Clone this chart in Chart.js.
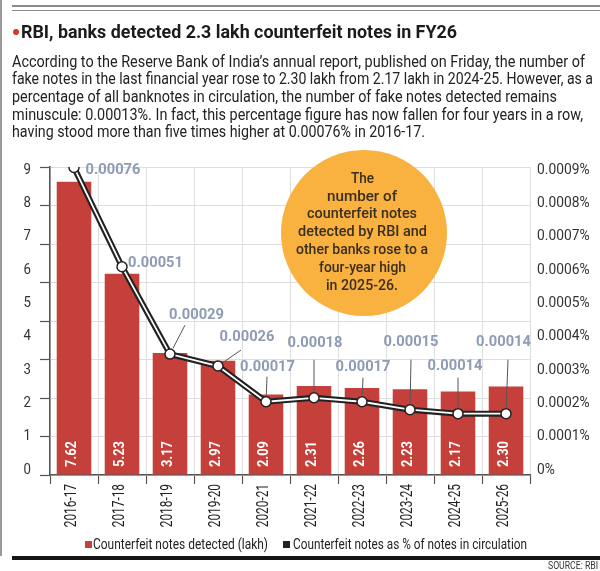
<!DOCTYPE html>
<html><head><meta charset="utf-8">
<script src="https://cdn.jsdelivr.net/npm/chart.js@4.4.0/dist/chart.umd.min.js"></script>
<style>
html,body{margin:0;padding:0;background:#fff;}
#page{position:relative;width:600px;height:571px;overflow:hidden;font-family:Roboto,sans-serif;background:#fff;}
#c{position:absolute;left:0;top:0;}
.t{position:absolute;white-space:nowrap;transform-origin:0 0;}
.blk{position:absolute;}
</style></head><body>
<div id="page">
<canvas id="c" width="600" height="571"></canvas>
<div class="blk" style="left:0;top:0;width:2px;height:556px;background:#9a9a9a"></div>
<div class="blk" style="left:12px;top:5px;width:588px;height:2px;background:#8a8a8a"></div>
<div class="blk" style="left:12px;top:10px;width:588px;height:1px;background:#8a8a8a"></div>
<div class="blk" style="left:12px;top:556px;width:588px;height:4px;background:#151515"></div>
<div class="blk" style="left:13px;top:28.5px;width:6px;height:6px;border-radius:50%;background:#d8362c"></div>
<div class="blk" id="circle" style="left:281px;top:150px;width:166px;height:166px;border-radius:50%;background:#F9B13F"></div>
<div class="blk" style="left:85px;top:541px;width:7px;height:7px;background:#C5403A"></div>
<div class="blk" style="left:283px;top:541px;width:7px;height:7px;background:#222"></div>
</div>
<script>
// ---- data ----
const categories = ['2016-17','2017-18','2018-19','2019-20','2020-21','2021-22','2022-23','2023-24','2024-25','2025-26'];
const notesLakh = [7.62, 5.23, 3.17, 2.97, 2.09, 2.31, 2.26, 2.23, 2.17, 2.30];
const pctOfCirculation = [0.00076, 0.00051, 0.00029, 0.00026, 0.00017, 0.00018, 0.00017, 0.00015, 0.00014, 0.00014];
const leftTickValues = [0,1,2,3,4,5,6,7,8,9];
const leftTickLabels = ['0','1','2','3','4','5','6','7','8','9'];
const rightTickValues = [0,0.0001,0.0002,0.0003,0.0004,0.0005,0.0006,0.0007,0.0008,0.0009];
const rightTickLabels = ['0%','0.0001%','0.0002%','0.0003%','0.0004%','0.0005%','0.0006%','0.0007%','0.0008%','0.0009%'];
const seriesNames = ['Counterfeit notes detected (lakh)','Counterfeit notes as % of notes in circulation'];

// ---- label placement styling (relative to each point) ----
const pctLabelOffset = [[39,2.5],[33.5,-3.8],[26.5,-39],[29,-29],[1.5,-35],[1,-55],[1,-35],[1,-67],[-3,-47],[-2.5,-71]];
const pctLeaderStart = [null,null,[15,-29],[23,-16],[1,-25],[0,-38],[1,-24],[1,-50],[0,-36],[2,-54]];

function drawScaled(ctx, text, x, y, sx){
  ctx.save(); ctx.translate(x,y); ctx.scale(sx,1); ctx.fillText(text,0,0); ctx.restore();
}

const labelsPlugin = {
  id:'labels',
  afterDraw(chart){
    const ctx = chart.ctx;
    const sx = chart.scales.x, yLab = chart.scales.yLab, yR = chart.scales.yR;
    const area = chart.chartArea;
    ctx.save();
    ctx.fillStyle = '#333'; ctx.font = '400 15px Roboto'; ctx.textBaseline='middle'; ctx.textAlign='right';
    leftTickValues.forEach((v,i)=> drawScaled(ctx, leftTickLabels[i], 31, yLab.getPixelForValue(v), 0.88));
    ctx.textAlign='left';
    rightTickValues.forEach((v,i)=> drawScaled(ctx, rightTickLabels[i], 537, yR.getPixelForValue(v), 0.92));
    ctx.fillStyle = '#222'; ctx.font = '400 16px Roboto';
    categories.forEach((c,i)=>{
      const x = sx.getPixelForValue(i) - 2;
      ctx.save(); ctx.translate(x, area.bottom + 9); ctx.rotate(-Math.PI/2);
      ctx.textAlign='right'; ctx.textBaseline='middle'; ctx.scale(0.74,1);
      ctx.fillText(c,0,0); ctx.restore();
    });
    const barMeta = chart.getDatasetMeta(0);
    ctx.fillStyle = '#fff'; ctx.font = '700 15px Roboto';
    barMeta.data.forEach((el,i)=>{
      ctx.save(); ctx.translate(el.x - 2, area.bottom - 8); ctx.rotate(-Math.PI/2);
      ctx.textAlign='left'; ctx.textBaseline='middle'; ctx.scale(0.86,1);
      ctx.fillText(notesLakh[i].toFixed(2),0,0); ctx.restore();
    });
    const lineMeta = chart.getDatasetMeta(2);
    lineMeta.data.forEach((el,i)=>{
      const px = el.x, py = el.y;
      const ls = pctLeaderStart[i];
      if (ls){
        const x0 = px + ls[0], y0 = py + ls[1];
        const dx = px - x0, dy = py - y0, L = Math.hypot(dx,dy);
        const x1 = px - dx/L*6.5, y1 = py - dy/L*6.5;
        ctx.strokeStyle = '#555'; ctx.lineWidth = 1;
        ctx.beginPath(); ctx.moveTo(x0,y0); ctx.lineTo(x1,y1); ctx.stroke();
      }
      const o = pctLabelOffset[i];
      ctx.fillStyle = '#8d9bb4'; ctx.font = '700 15px Roboto';
      ctx.textAlign='center'; ctx.textBaseline='middle';
      drawScaled(ctx, pctOfCirculation[i].toFixed(5), px + o[0], py + o[1], 0.98);
    });
    ctx.restore();
  }
};

new Chart(document.getElementById('c'), {
  data:{
    labels: categories,
    datasets:[
      {type:'bar', label:seriesNames[0], data:notesLakh, backgroundColor:'#C5403A', yAxisID:'y', xAxisID:'x', barPercentage:0.72, categoryPercentage:1, order:3},
      {type:'line', label:seriesNames[1], data:pctOfCirculation, yAxisID:'yPct', xAxisID:'x', borderColor:'#222', borderWidth:6, pointRadius:0, tension:0, order:2},
      {type:'line', label:seriesNames[1], data:pctOfCirculation, yAxisID:'yPct', xAxisID:'x', borderColor:'#fff', borderWidth:1.8, tension:0,
        pointRadius:5, pointBackgroundColor:'#fff', pointBorderColor:'#222', pointBorderWidth:1.5, order:1}
    ]
  },
  options:{
    responsive:false, animation:false, devicePixelRatio:1,
    layout:{padding:{left:50,right:70,top:167,bottom:96}},
    plugins:{legend:{display:false}, tooltip:{enabled:false}, title:{display:false}},
    scales:{
      x:{type:'category', offset:true,
         grid:{offset:true, color:'#dedede', lineWidth:1, tickLength:9, tickColor:'#555', tickWidth:1.2},
         border:{color:'#555', width:1.5}, ticks:{display:false}, afterFit(s){s.height=0;}},
      y:{type:'linear', position:'left', min:0, max:8,
         ticks:{display:false, stepSize:1},
         grid:{color:'#dedede', lineWidth:1, tickLength:10, tickColor:'#555', tickWidth:1.2},
         border:{color:'#555', width:1.5}, afterFit(s){s.width=0;}},
      yLab:{type:'linear', display:false, min:-0.15, max:9.09},
      yPct:{type:'linear', display:false, min:-0.0000144, max:0.000761},
      yR:{type:'linear', display:false, min:-0.000015, max:0.000909}
    }
  },
  plugins:[labelsPlugin]
});

// ---- HTML text ----
const page = document.getElementById('page');
function place(o){
  const d = document.createElement('div');
  d.className='t';
  d.style.font = `${o.weight||400} ${o.size}px Roboto, sans-serif`;
  d.style.lineHeight = o.size+'px';
  d.style.color = o.color||'#222';
  d.style.left='0px'; d.style.top='0px';
  d.textContent = o.text;
  const m = document.createElement('i');
  m.style.cssText='display:inline-block;width:0;height:0;vertical-align:baseline;';
  d.appendChild(m);
  page.appendChild(d);
  const nat = d.getBoundingClientRect().width;
  const base = m.offsetTop;
  const s = o.width/nat;
  d.style.transform = `scaleX(${s})`;
  const left = (o.cx!==undefined) ? o.cx - o.width/2 : o.x;
  d.style.left = left+'px';
  d.style.top = (o.baseline - base)+'px';
  return d;
}
place({text:'RBI, banks detected 2.3 lakh counterfeit notes in FY26', x:21, baseline:37.5, size:18, weight:700, color:'#1b1b1b', width:436});
const para = [
  ['According to the Reserve Bank of India’s annual report, published on Friday, the number of', 573],
  ['fake notes in the last financial year rose to 2.30 lakh from 2.17 lakh in 2024-25. However, as a', 581],
  ['percentage of all banknotes in circulation, the number of fake notes detected remains', 545],
  ['minuscule: 0.00013%. In fact, this percentage figure has now fallen for four years in a row,', 571],
  ['having stood more than five times higher at 0.00076% in 2016-17.', 413]
];
para.forEach((p,i)=> place({text:p[0], x:12, baseline:66.7 + i*17.6, size:16.5, color:'#222', width:p[1]}));
const circ = [
  ['The',23],['number of',70],['counterfeit notes',110],['detected by RBI and',129],
  ['other banks rose to a',132],['four-year high',87],['in 2025-26.',72]
];
circ.forEach((c,i)=> place({text:c[0], cx:362, baseline:182.7 + i*17.8, size:15, weight:500, color:'#3a2e1e', width:c[1]}));
place({text:seriesNames[0], x:93, baseline:549, size:14.5, color:'#222', width:175});
place({text:seriesNames[1], x:293, baseline:549, size:14.5, color:'#222', width:234});
place({text:'SOURCE: RBI', x:548, baseline:569, size:10, color:'#333', width:50});
</script>
</body></html>
